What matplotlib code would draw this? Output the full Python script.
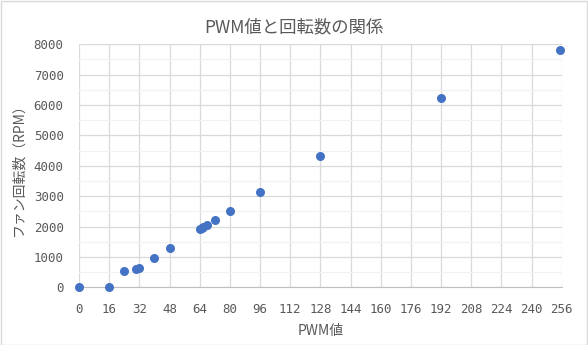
import matplotlib
matplotlib.use("Agg")
import matplotlib.pyplot as plt
from matplotlib.patches import Rectangle
from matplotlib.ticker import MultipleLocator

plt.rcParams['font.family'] = ['Noto Sans CJK JP', 'DejaVu Sans']

# PWM duty value vs fan speed
pwm = [0, 16, 24, 30, 32, 40, 48, 64, 65, 66, 68, 72, 80, 96, 128, 192, 255]
rpm = [0, 0, 550, 600, 650, 960, 1280, 1930, 1960, 2000, 2050, 2210, 2500, 3130, 4310, 6220, 7800]

x_ticks = list(range(0, 257, 16))
y_ticks = list(range(0, 8001, 1000))

grey = '#595959'

fig = plt.figure(figsize=(5.88, 3.45), dpi=100)
ax = fig.add_axes([79 / 588, 1 - 287.3 / 345, (561.7 - 79) / 588, (287.3 - 44.3) / 345])

ax.scatter(pwm, rpm, s=30, color='#4472C4', zorder=3, clip_on=False)

ax.set_xlim(0, 256)
ax.set_ylim(0, 8000)
ax.set_xticks(x_ticks)
ax.set_yticks(y_ticks)
ax.yaxis.set_minor_locator(MultipleLocator(500))
ax.grid(which='major', color='#d9d9d9', linewidth=0.9)
ax.grid(which='minor', axis='y', color='#f2f2f2', linewidth=0.9)
ax.set_axisbelow(True)
for side in ['top', 'right', 'left']:
    ax.spines[side].set_visible(False)
ax.spines['bottom'].set_color('#bfbfbf')

ax.tick_params(which='both', length=0, colors=grey, labelsize=9, pad=11)
for lab in ax.get_xticklabels() + ax.get_yticklabels():
    lab.set_family(['DejaVu Sans Mono', 'Noto Sans CJK JP'])

# title is centred on the whole figure, not on the axes
fig.text(0.5, 1 - 27 / 345, 'PWM値と回転数の関係', color=grey, fontsize=12.5,
         ha='center', va='center')
ax.set_xlabel('PWM値', color=grey, fontsize=10, labelpad=6)
ax.set_ylabel('ファン回転数（RPM）', color=grey, fontsize=10, labelpad=6)

fig.patches.append(Rectangle((0.5 / 588, 0.5 / 345), 586.5 / 588, 343.5 / 345,
                             transform=fig.transFigure, fill=False,
                             edgecolor='#d9d9d9', linewidth=1))

fig.savefig('out.png', dpi=100)
